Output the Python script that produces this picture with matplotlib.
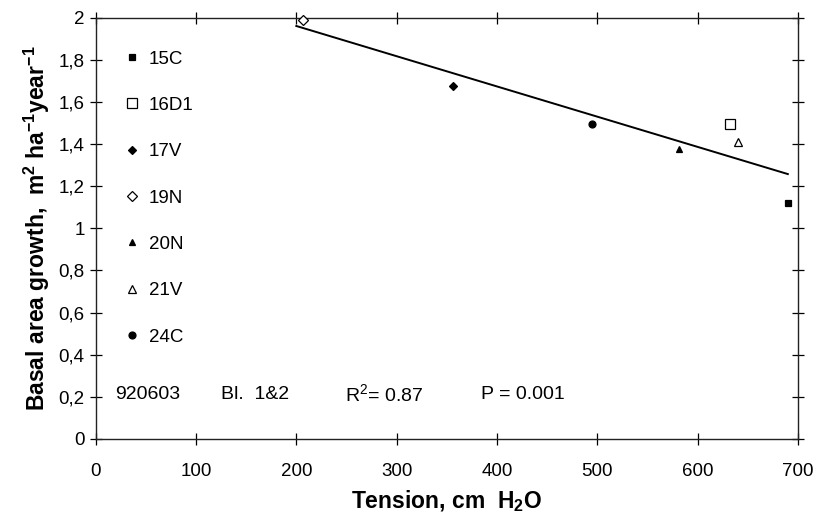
import matplotlib
matplotlib.use("Agg")
import matplotlib.pyplot as plt
import matplotlib.ticker as mticker
import numpy as np

plt.rcParams['font.family'] = ['Liberation Sans', 'DejaVu Sans']
plt.rcParams['mathtext.fontset'] = 'custom'
plt.rcParams['mathtext.rm'] = 'Liberation Sans'
plt.rcParams['mathtext.bf'] = 'Liberation Sans:bold'

# data
plots = ['15C', '16D1', '17V', '19N', '20N', '21V', '24C']
tension = [690, 632, 356, 207, 582, 640, 495]
growth = [1.12, 1.495, 1.675, 1.99, 1.376, 1.41, 1.495]
markers = ['s', 's', 'D', 'D', '^', '^', 'o']
filled = [True, False, True, False, True, False, True]
msizes = [5, 7, 4, 5, 5, 6, 5]

x_ticks = [0, 100, 200, 300, 400, 500, 600, 700]
y_ticks = [0, 0.2, 0.4, 0.6, 0.8, 1, 1.2, 1.4, 1.6, 1.8, 2]

fig = plt.figure(figsize=(8.2, 5.26), dpi=100)
ax = fig.add_axes([0.1167, 0.1654, 0.973 - 0.1167, 0.9667 - 0.1654])

for i in range(len(plots)):
    ax.plot(tension[i], growth[i], linestyle='none', marker=markers[i], markersize=msizes[i],
            markerfacecolor='black' if filled[i] else 'white', markeredgecolor='black',
            markeredgewidth=0.9, label=plots[i], clip_on=False, zorder=3)

# regression line
k, b = np.polyfit(tension, growth, 1)
xx = np.array([200, max(tension)])
ax.plot(xx, k * xx + b, color='black', lw=1.4, zorder=2)

ax.set_xlim(0, 700)
ax.set_ylim(0, 2)
ax.set_xticks(x_ticks)
ax.set_yticks(y_ticks)
ax.yaxis.set_major_formatter(mticker.FuncFormatter(lambda v, p: ('%g' % v).replace('.', ',')))
ax.tick_params(axis='both', which='major', direction='inout', length=8, width=0.9,
               top=True, right=True, labelsize=13.5)
ax.tick_params(axis='x', pad=13)
ax.tick_params(axis='y', pad=4)
for s in ax.spines.values():
    s.set_linewidth(1.0)
    s.set_color('#222222')

ax.set_xlabel('Tension, cm  H$_\\mathbf{2}$O', fontsize=16.5, fontweight='bold', labelpad=6)
ax.set_ylabel('Basal area growth,  m$^\\mathbf{2}$ ha$^\\mathbf{-1}$year$^\\mathbf{-1}$',
              fontsize=16.5, fontweight='bold', labelpad=5)

leg = ax.legend(loc='upper left', bbox_to_anchor=(0.012, 0.962), frameon=False, fontsize=13.5,
                labelspacing=1.56, handletextpad=0.3, handlelength=1.2, borderaxespad=0.5)

ax.text(19, 0.21, '920603', fontsize=14, va='center', ha='left')
ax.text(125, 0.21, 'Bl.  1&2', fontsize=14, va='center', ha='left')
ax.text(249, 0.21, 'R$^2$= 0.87', fontsize=14, va='center', ha='left')
ax.text(384, 0.21, 'P = 0.001', fontsize=14, va='center', ha='left')

fig.savefig('out.png', dpi=100)
